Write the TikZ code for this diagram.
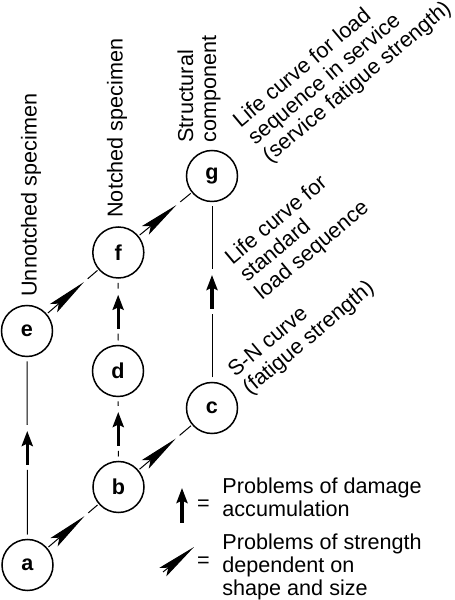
\documentclass[tikz,border=0pt]{standalone}
\usepackage{fontspec}
\setmainfont{Liberation Sans}
\usetikzlibrary{arrows.meta,calc}

\begin{document}
\begin{tikzpicture}[x=0.5pt,y=0.5pt,
  font=\fontsize{10.8pt}{11.5pt}\selectfont,
  stage/.style={circle, draw, line width=0.75pt, minimum size=25.5pt,
    inner sep=0pt, outer sep=1pt, font=\fontsize{10.8pt}{11.5pt}\selectfont\bfseries},
  conn/.style={line width=0.5pt},
  dmg/.style={line width=1.6pt, -{Stealth[length=7.5pt,width=5.5pt,inset=1.2pt]}},
  shp/.style={line width=0.5pt, -{Stealth[length=20pt,width=5.5pt,inset=3.5pt]}},
  txt/.style={inner sep=0pt, align=left}]
\useasboundingbox (0,0) rectangle (455,600);
% stages
\node[stage] (a) at (27.5,35) {a};
\node[stage] (b) at (118.5,113) {b};
\node[stage] (c) at (212,192) {c};
\node[stage] (d) at (118,229) {d};
\node[stage] (e) at (27,269) {e};
\node[stage] (f) at (118.3,347.5) {f};
\node[stage] (g) at (212,424) {g};
% damage accumulation (vertical)
\foreach \s/\t in {a/e,b/d,d/f,c/g}{
  \draw[conn, shorten <=1.5pt] (\s) -- ($(\s)!.5!(\t)+(0,-22)$);
  \draw[dmg] ($(\s)!.5!(\t)+(0,-17)$) -- ($(\s)!.5!(\t)+(0,17)$);
  \draw[conn, shorten >=1.5pt] ($(\s)!.5!(\t)+(0,23)$) -- (\t);
}
% strength vs. shape and size (oblique)
\foreach \s/\t in {a/b,b/c,e/f,f/g}{
  \draw[shp] (\s) -- ($(\s)!37.5pt!(\t)$);
  \draw[conn] ($(\s)!40pt!(\t)$) -- (\t);
}
% labels
\node[txt, rotate=90, anchor=west] (unnotched) at (31,303) {Unnotched specimen};
\node[txt, rotate=90, anchor=west] (notched) at (117,382) {Notched specimen};
\node[txt, rotate=90, anchor=west] (component) at (199,457) {Structural\\component};
\node[txt, rotate=40, anchor=north west] (service) at (230,484)
  {Life curve for load\\sequence in service\\(service fatigue strength)};
\node[txt, rotate=40, anchor=north west] (standard) at (222,347)
  {Life curve for\\standard\\load sequence};
\node[txt, rotate=40, anchor=north west] (sncurve) at (225,234)
  {S-N curve\\(fatigue strength)};
% key
\coordinate (dmgtail) at (182,77);
\coordinate (dmgtip) at (182,112);
\draw[dmg] (dmgtail) -- (dmgtip);
\node[inner sep=0pt] (eqdmg) at (203.5,95) {=};
\node[txt, anchor=north west] (keydmg) at (222,123) {Problems of damage\\accumulation};
\coordinate (shptail) at (163,28);
\coordinate (shptip) at (194,53);
\draw[shp] (shptail) -- (shptip);
\node[inner sep=0pt] (eqshp) at (203.5,38) {=};
\node[txt, anchor=north west] (keyshp) at (222,67) {Problems of strength\\dependent on\\shape and size};
\end{tikzpicture}
\end{document}
